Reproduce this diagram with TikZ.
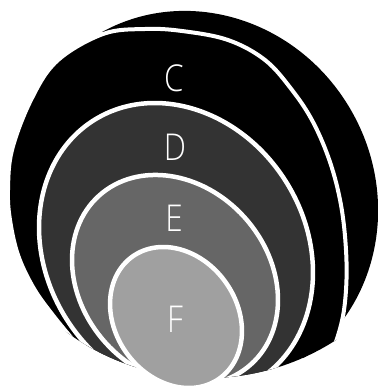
\documentclass[tikz,border=0pt]{standalone}
\usepackage{fontspec}
\setmainfont{Open Sans}
\newfontfamily\lightfont{Open Sans Light}
\definecolor{dgray}{HTML}{333333}
\definecolor{mgray}{HTML}{666666}
\definecolor{lgray}{HTML}{A0A0A0}
\tikzset{
  ring/.style={draw=white, line width=4.5pt},
  lbl/.style={text=white, font=\lightfont\fontsize{37}{37}\selectfont, inner sep=0pt, xscale=0.85}
}
\begin{document}
\begin{tikzpicture}[x=1pt,y=1pt]
\useasboundingbox (0,0) rectangle (377,-390);
\begin{scope}
  \clip (207,-140) circle (238);
  % outer shell, only on the upper-right side of C
  \begin{scope}
    \clip (75.8,10) -- (349,-432) -- (460,-432) -- (460,10) -- cycle;
    \fill[black, rotate around={30:(195,-200)}] (195,-200) ellipse [x radius=180, y radius=192];
  \end{scope}
  % C
  \filldraw[ring, fill=black, line width=4pt] plot[smooth cycle, tension=0.6] coordinates {
    (103,-34) (145,-29) (182,-31) (228,-40) (265,-60) (292,-90) (313,-122)
    (330,-162) (341,-205) (346,-250) (346,-290) (341,-325) (328,-360) (305,-392)
    (250,-420) (180,-430) (120,-395) (80,-348) (52,-314) (33,-287) (18,-255)
    (10,-220) (8,-190) (12,-150) (31,-100) (57,-61)};
  % D and E
  \filldraw[ring, fill=dgray, rotate around={32.7:(176,-250)}] (176,-250) ellipse [x radius=129.5, y radius=153.6];
  \filldraw[ring, fill=mgray, rotate around={42:(175,-280)}] (175,-280) ellipse [x radius=93.6, y radius=113.5];
\end{scope}
\filldraw[ring, fill=lgray, rotate around={35.5:(176,-317.5)}] (176,-317.5) ellipse [x radius=60.9, y radius=74.9];
\node[lbl] (labC) at (174,-78) {C};
\node[lbl] (labD) at (175,-147) {D};
\node[lbl] (labE) at (174,-218) {E};
\node[lbl] (labF) at (175,-319) {F};
\end{tikzpicture}
\end{document}
